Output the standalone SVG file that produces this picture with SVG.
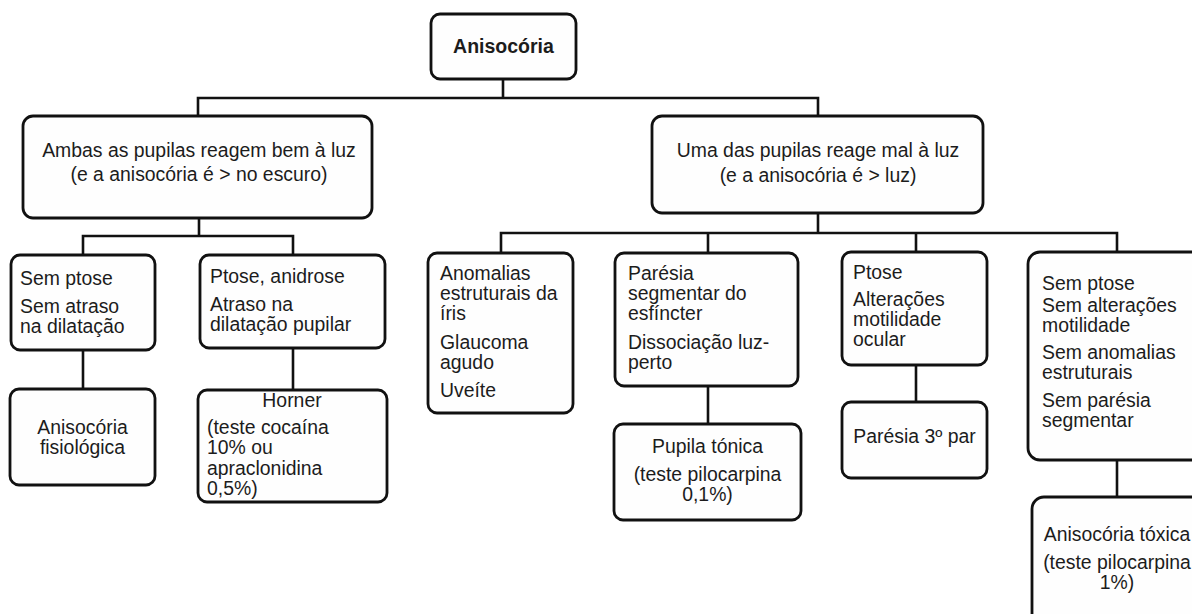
<svg xmlns="http://www.w3.org/2000/svg" width="1192" height="614" viewBox="0 0 1192 614">
<style>
.box{fill:#fefefe;stroke:#111;stroke-width:2.8}
.t{font-family:"Liberation Sans",Arial,sans-serif;font-size:19.4px;fill:#1c1c1c}
.c{text-anchor:middle}
.b{font-weight:bold;font-size:19.5px}
.conn{fill:none;stroke:#111;stroke-width:2.6}
</style>
<rect width="1192" height="614" fill="#ffffff"/>
<g id="connectors" class="conn">
<path d="M503,79V98M198,116V98H818V116"/>
<path d="M199,218V236M83,255V236H293V255"/>
<path d="M83,350V389M293,348V390"/>
<path d="M818,213V233M501,253V233H1117V252M708,233V253M916,233V252"/>
<path d="M708,386V424M916,365V402M1117,460V497"/>
</g>
<g id="n-anisocoria">
<rect class="box" x="431" y="14" width="145" height="65" rx="9"/>
<text class="t c b" x="503.5" y="53">Anisocória</text>
</g>
<g id="n-ambas">
<rect class="box" x="23" y="116" width="349" height="102" rx="10"/>
<text class="t c" x="199" y="157">Ambas as pupilas reagem bem à luz</text>
<text class="t c" x="199" y="181">(e a anisocória é &gt; no escuro)</text>
</g>
<g id="n-uma">
<rect class="box" x="652" y="116" width="331" height="97" rx="10"/>
<text class="t c" x="818" y="157">Uma das pupilas reage mal à luz</text>
<text class="t c" x="818" y="182">(e a anisocória é &gt; luz)</text>
</g>
<g id="n-semptose">
<rect class="box" x="11" y="255" width="144" height="95" rx="9"/>
<text class="t" x="20" y="285">Sem ptose</text>
<text class="t" x="20" y="313">Sem atraso</text>
<text class="t" x="20" y="333">na dilatação</text>
</g>
<g id="n-ptose-anidrose">
<rect class="box" x="200" y="255" width="185" height="93" rx="9"/>
<text class="t" x="210" y="283">Ptose, anidrose</text>
<text class="t" x="210" y="311">Atraso na</text>
<text class="t" x="210" y="331">dilatação pupilar</text>
</g>
<g id="n-fisiologica">
<rect class="box" x="10" y="389" width="145" height="96" rx="9"/>
<text class="t c" x="82.5" y="434">Anisocória</text>
<text class="t c" x="82.5" y="454">fisiológica</text>
</g>
<g id="n-horner">
<rect class="box" x="198" y="390" width="189" height="112" rx="9"/>
<text class="t c" x="292" y="407">Horner</text>
<text class="t" x="207" y="434">(teste cocaína</text>
<text class="t" x="207" y="454">10% ou</text>
<text class="t" x="207" y="475">apraclonidina</text>
<text class="t" x="207" y="495">0,5%)</text>
</g>
<g id="n-anomalias">
<rect class="box" x="428" y="253" width="145" height="160" rx="9"/>
<text class="t" x="440" y="280">Anomalias</text>
<text class="t" x="440" y="300">estruturais da</text>
<text class="t" x="440" y="320">íris</text>
<text class="t" x="440" y="349">Glaucoma</text>
<text class="t" x="440" y="369">agudo</text>
<text class="t" x="440" y="397">Uveíte</text>
</g>
<g id="n-paresia">
<rect class="box" x="615" y="253" width="183" height="133" rx="9"/>
<text class="t" x="628" y="280">Parésia</text>
<text class="t" x="628" y="300">segmentar do</text>
<text class="t" x="628" y="320">esfíncter</text>
<text class="t" x="628" y="349">Dissociação luz-</text>
<text class="t" x="628" y="369">perto</text>
</g>
<g id="n-pupila">
<rect class="box" x="614" y="424" width="187" height="96" rx="9"/>
<text class="t c" x="707.5" y="453">Pupila tónica</text>
<text class="t c" x="707.5" y="481">(teste pilocarpina</text>
<text class="t c" x="707.5" y="501">0,1%)</text>
</g>
<g id="n-ptose">
<rect class="box" x="842" y="252" width="145" height="113" rx="9"/>
<text class="t" x="853" y="279">Ptose</text>
<text class="t" x="853" y="306">Alterações</text>
<text class="t" x="853" y="326">motilidade</text>
<text class="t" x="853" y="346">ocular</text>
</g>
<g id="n-paresia3">
<rect class="box" x="842" y="402" width="145" height="76" rx="9"/>
<text class="t c" x="914.5" y="443">Parésia 3º par</text>
</g>
<g id="n-semptose2">
<rect class="box" x="1028" y="252" width="180" height="208" rx="12"/>
<text class="t" x="1042" y="290">Sem ptose</text>
<text class="t" x="1042" y="312">Sem alterações</text>
<text class="t" x="1042" y="332">motilidade</text>
<text class="t" x="1042" y="359">Sem anomalias</text>
<text class="t" x="1042" y="379">estruturais</text>
<text class="t" x="1042" y="407">Sem parésia</text>
<text class="t" x="1042" y="427">segmentar</text>
</g>
<g id="n-toxica">
<rect class="box" x="1032" y="497" width="180" height="140" rx="12"/>
<text class="t c" x="1117" y="541">Anisocória tóxica</text>
<text class="t c" x="1117" y="569">(teste pilocarpina</text>
<text class="t c" x="1117" y="589">1%)</text>
</g>
</svg>
